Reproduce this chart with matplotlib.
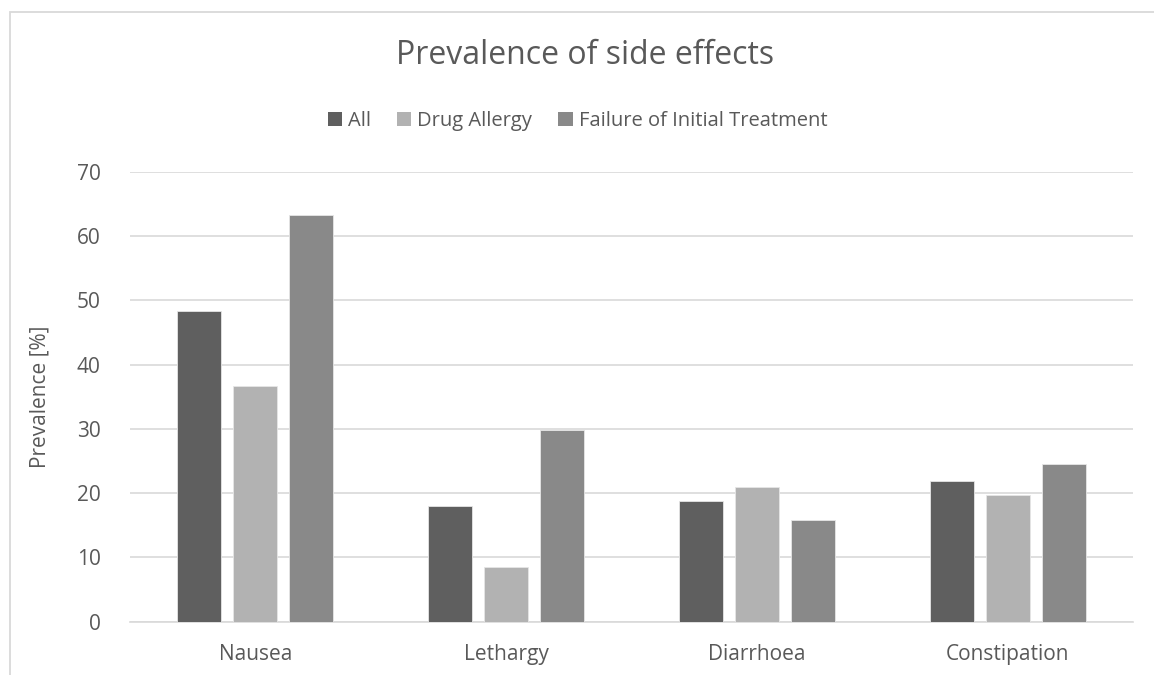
import matplotlib
matplotlib.use("Agg")
import matplotlib.pyplot as plt
import numpy as np
from matplotlib.patches import Rectangle

plt.rcParams['font.family'] = ['Open Sans', 'DejaVu Sans']

categories = ["Nausea", "Lethargy", "Diarrhoea", "Constipation"]
series_names = ["All", "Drug Allergy", "Failure of Initial Treatment"]
all_vals = [48.4, 18.0, 18.8, 21.9]
drug_allergy = [36.7, 8.5, 21.0, 19.7]
failure_initial = [63.2, 29.8, 15.8, 24.6]
y_ticks = [0, 10, 20, 30, 40, 50, 60, 70]

colors = ["#5f5f5f", "#b2b2b2", "#898989"]
text_color = "#595959"
grid_color = "#d9d9d9"

W, H = 1154, 675
fig = plt.figure(figsize=(W / 100, H / 100), dpi=100)
ax = fig.add_axes([130 / W, (H - 621.7) / H, (1133 - 130) / W, (621.7 - 171.7) / H])

x = np.arange(len(categories))
bar_w = 0.1755
step = 0.2233
for i, (vals, name, c) in enumerate(zip([all_vals, drug_allergy, failure_initial], series_names, colors)):
    ax.bar(x + (i - 1) * step, vals, width=bar_w, color=c, label=name,
           edgecolor="#e6e6e6", linewidth=0.6, zorder=3)

ax.set_xlim(-0.5, len(categories) - 0.5)
ax.set_ylim(0, 70)
ax.set_yticks(y_ticks)
ax.yaxis.grid(True, color=grid_color, linewidth=1.2, zorder=0)
ax.set_xticks(x)
ax.set_xticklabels(categories)
for s in ["top", "right", "left"]:
    ax.spines[s].set_visible(False)
ax.spines["bottom"].set_color(grid_color)
ax.spines["bottom"].set_linewidth(1.2)
ax.tick_params(axis="both", length=0, colors=text_color, labelsize=15)
ax.tick_params(axis="y", pad=21)
ax.tick_params(axis="x", pad=16)
ax.set_ylabel("Prevalence [%]", color=text_color, fontsize=15, labelpad=19)

fig.text(0.507, 1 - 56 / H, "Prevalence of side effects", ha="center", va="center",
         fontsize=23, color=text_color)

leg = fig.legend(loc="center", bbox_to_anchor=(0.5005, 1 - 121 / H), ncol=3, frameon=False,
                 fontsize=14.5, labelcolor=text_color, handlelength=0.7, handleheight=0.7,
                 handletextpad=0.3, columnspacing=1.3)
for h in leg.legend_handles:
    h.set_edgecolor("none")

# outer chart border
fig.patches.append(Rectangle((9.5 / W, -0.01), 1.2, 1 - 11.5 / H + 0.01, transform=fig.transFigure,
                             fill=False, edgecolor=grid_color, linewidth=1.3))

fig.savefig("out.png", dpi=100, facecolor="white")
